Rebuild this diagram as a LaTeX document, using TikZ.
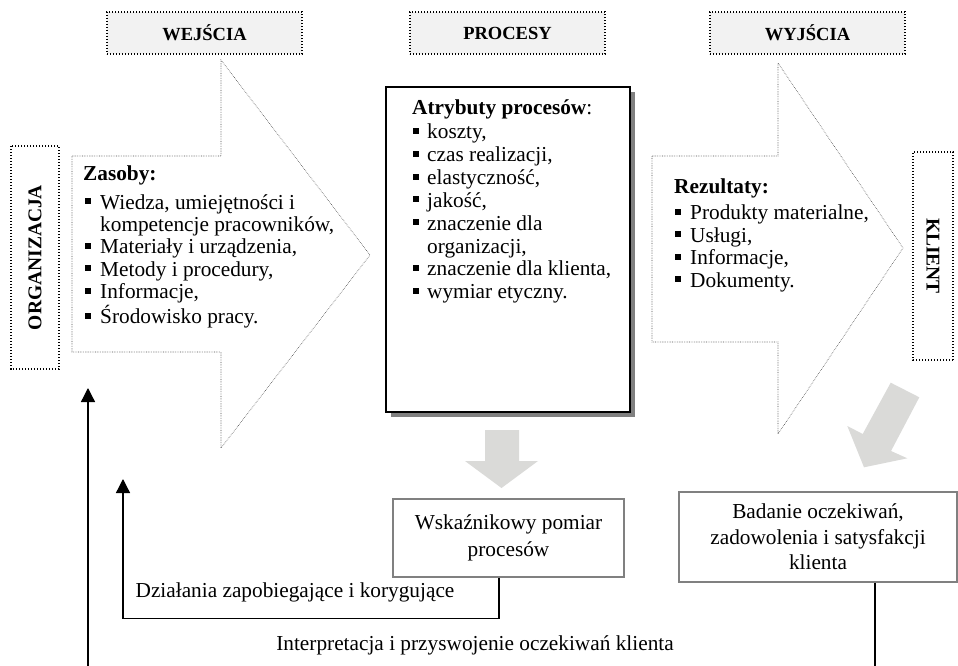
\documentclass[tikz,border=0pt]{standalone}
\usepackage{fontspec}
\setmainfont{Liberation Serif}
\usetikzlibrary{arrows.meta,calc}

\definecolor{hdrfill}{RGB}{242,242,242}
\definecolor{flowgray}{RGB}{218,218,216}
\definecolor{boxgray}{RGB}{128,128,128}
\definecolor{shadowgray}{RGB}{128,128,128}

% small filled square used as list bullet
\newcommand{\sqbul}{\raisebox{5pt}{\rule{6pt}{6pt}}}

\begin{document}
\begin{tikzpicture}[x=1pt,y=-1pt,
  hdrbox/.style={draw, line width=1.3pt, dash pattern=on 1.2pt off 1.8pt,
    fill=hdrfill, inner sep=0pt, minimum width=195pt, minimum height=42pt,
    font=\fontsize{18.5}{22}\selectfont\bfseries},
  sidebox/.style={draw, line width=1.3pt, dash pattern=on 1.2pt off 1.8pt,
    fill=white, inner sep=0pt, font=\fontsize{19.5}{22}\selectfont\bfseries},
  bigarrow/.style={draw=black!70, fill=white, line width=0.6pt,
    dash pattern=on 0.6pt off 1.1pt},
  flowarrow/.style={fill=flowgray, draw=none},
  listtext/.style={inner sep=0pt, anchor=base west,
    font=\fontsize{21.3}{22.4}\selectfont},
  measurebox/.style={draw=boxgray, line width=1.2pt, fill=white, inner sep=0pt,
    align=center},
  label/.style={inner sep=0pt, font=\fontsize{21.3}{22.4}\selectfont},
  conn/.style={line width=1.3pt, -{Triangle[width=14pt,length=14pt]}}
]
\useasboundingbox (0,0) rectangle (958,666);
\clip (0,0) rectangle (958,666);
\fill[white] (0,0) rectangle (958,666);

% large input and output arrows
\draw[bigarrow] (72,156) -- (221,156) -- (221,60) -- (370,255) -- (221,448)
  -- (221,352) -- (72,352) -- cycle;
\draw[bigarrow] (652,156) -- (778,156) -- (778,63) -- (903,248) -- (778,434)
  -- (778,342) -- (652,342) -- cycle;

% column headers
\node[hdrbox] (wej)  at (204.5,33) {WEJŚCIA};
\node[hdrbox] (proc) at (507.5,33) {PROCESY};
\node[hdrbox] (wyj)  at (807.5,33) {WYJŚCIA};

% side labels
\node[sidebox, rotate=90, minimum width=223pt, minimum height=48pt]
  (org) at (35,257.5) {ORGANIZACJA};
\node[sidebox, rotate=-90, minimum width=208pt, minimum height=40pt]
  (kl) at (933,256) {KLIENT};

% process attributes box with shadow
\fill[shadowgray] (391,92) rectangle (635,417);
\draw[line width=2pt, fill=white] (386,87) rectangle (630,412);

% list of resources
\node[listtext] (zas) at (83,180) {%
\begin{tabular}[t]{@{\hspace{2pt}}l@{\hspace{9pt}}l@{}}
\multicolumn{2}{@{}l@{}}{\textbf{Zasoby:}}\\[6.6pt]
\sqbul & Wiedza, umiejętności i\\
       & kompetencje pracowników,\\
\sqbul & Materiały i urządzenia,\\
\sqbul & Metody i procedury,\\
\sqbul & Informacje,\\
\sqbul & Środowisko pracy.
\end{tabular}};

% list of process attributes
\node[listtext, font=\fontsize{21.3}{22.85}\selectfont] (atr) at (412,115) {%
\begin{tabular}[t]{@{\hspace{1pt}}l@{\hspace{8pt}}l@{}}
\multicolumn{2}{@{}l@{}}{\textbf{Atrybuty procesów}:}\\[1pt]
\sqbul & koszty,\\
\sqbul & czas realizacji,\\
\sqbul & elastyczność,\\
\sqbul & jakość,\\
\sqbul & znaczenie dla\\
       & organizacji,\\
\sqbul & znaczenie dla klienta,\\
\sqbul & wymiar etyczny.
\end{tabular}};

% list of results
\node[listtext] (rez) at (674,193) {%
\begin{tabular}[t]{@{\hspace{1pt}}l@{\hspace{9pt}}l@{}}
\multicolumn{2}{@{}l@{}}{\textbf{Rezultaty:}}\\[4.5pt]
\sqbul & Produkty materialne,\\
\sqbul & Usługi,\\
\sqbul & Informacje,\\
\sqbul & Dokumenty.
\end{tabular}};

% grey flow arrows
\fill[flowarrow] (485,430) -- (519,430) -- (519,461) -- (538,461) -- (501.5,488)
  -- (465,461) -- (485,461) -- cycle;
\fill[flowarrow] (890.7,382.7) -- (919.3,397.3) -- (891,451) -- (907.3,458.3)
  -- (864,467.3) -- (847.3,426) -- (862.7,434) -- cycle;

% measurement boxes
\node[measurebox, minimum width=231pt, minimum height=78pt,
  font=\fontsize{21.3}{27}\selectfont] (wsk) at (508.5,538)
  {Wskaźnikowy pomiar\\procesów};
\node[measurebox, minimum width=278pt, minimum height=90pt,
  font=\fontsize{21.3}{25.5}\selectfont] (bad) at (818,537)
  {Badanie oczekiwań,\\zadowolenia i satysfakcji\\klienta};

% feedback loops
\coordinate (tipA) at (123,479);
\coordinate (tipB) at (88,388);
\draw[conn] ($(wsk.south)+(-9.5,0)$) -- ++(0,41) -| (tipA);
\draw[conn] ($(bad.south)+(57,0)$) -- ++(0,110) -| (tipB);

\node[label] (lab1) at (295,592) {Działania zapobiegające i korygujące};
\node[label] (lab2) at (475,645) {Interpretacja i przyswojenie oczekiwań klienta};
\end{tikzpicture}
\end{document}
